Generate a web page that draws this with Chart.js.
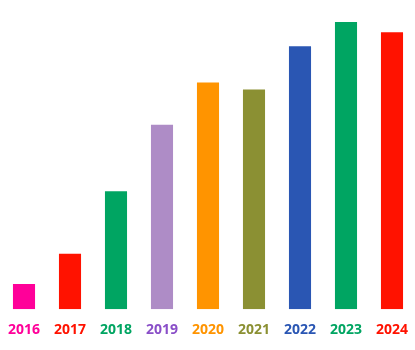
<!DOCTYPE html>
<html>
<head>
<meta charset="utf-8">
<script src="https://cdn.jsdelivr.net/npm/chart.js@4"></script>
<style>
  html, body { margin: 0; padding: 0; background: #fff; }
  #wrap { width: 415px; height: 350px; }
</style>
</head>
<body>
<div id="wrap"><canvas id="chart"></canvas></div>
<script>
const years = ['2016', '2017', '2018', '2019', '2020', '2021', '2022', '2023', '2024'];
const values = [25, 55, 117, 183, 225, 218, 261, 285, 275];
const barColors = ['#ff0099', '#ff1200', '#00a562', '#ae8cc6', '#ff9400', '#8b9033', '#2a56b3', '#00a562', '#ff1200'];
const labelColors = ['#ff0099', '#ff1200', '#00a562', '#8a4fc8', '#ff9400', '#8b9033', '#2a56b3', '#00a562', '#ff1200'];

const ctx = document.getElementById('chart');

new Chart(ctx, {
    type: 'bar',
    data: {
        labels: years,
        datasets: [{
            data: values,
            backgroundColor: barColors,
            borderWidth: 0,
            barPercentage: 0.48,
            categoryPercentage: 1
        }]
    },
    options: {
        responsive: true,
        maintainAspectRatio: false,
        animation: false,
        layout: { padding: { left: 1, right: 0, top: 7, bottom: 8 } },
        plugins: {
            legend: { display: false },
            tooltip: { enabled: false }
        },
        scales: {
            x: {
                grid: { display: false },
                border: { display: false },
                ticks: {
                    color: labelColors,
                    padding: 4,
                    font: { family: 'Open Sans', size: 14, weight: 'bold' }
                }
            },
            y: {
                display: false,
                min: 0,
                max: 300
            }
        }
    }
});
</script>
</body>
</html>
